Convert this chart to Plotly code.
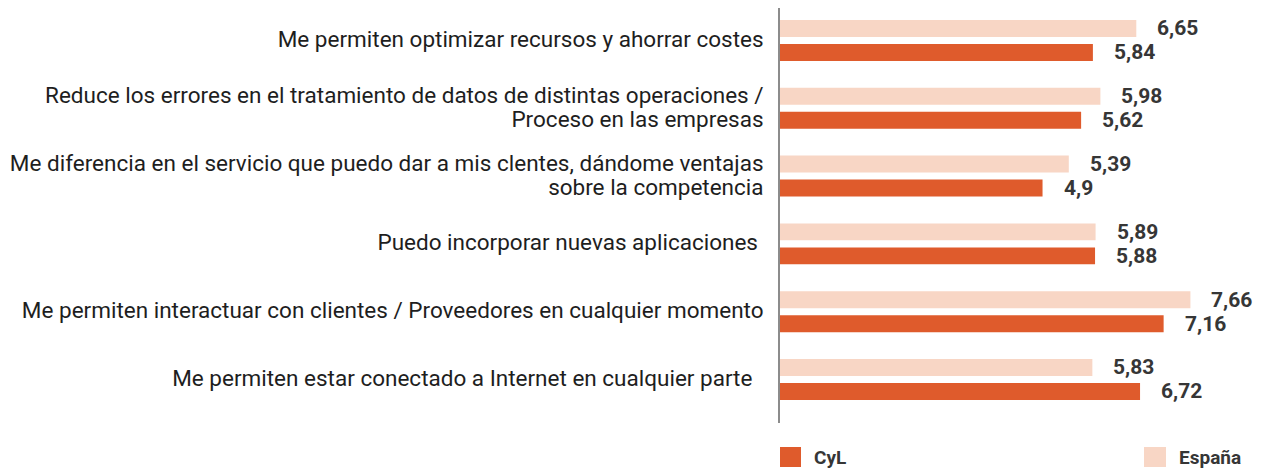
import plotly.graph_objects as go

categories = [
    "Me permiten optimizar recursos y ahorrar costes",
    "Reduce los errores en el tratamiento de datos de distintas operaciones /<br>Proceso en las empresas",
    "Me diferencia en el servicio que puedo dar a mis clentes, dándome ventajas<br>sobre la competencia",
    "Puedo incorporar nuevas aplicaciones\u00a0",
    "Me permiten interactuar con clientes / Proveedores en cualquier momento",
    "Me permiten estar conectado a Internet en cualquier parte\u00a0\u00a0",
]
espana = [6.65, 5.98, 5.39, 5.89, 7.66, 5.83]
cyl = [5.84, 5.62, 4.9, 5.88, 7.16, 6.72]
series_names = ["CyL", "España"]

C_CYL = "#DF5B2C"
C_ESP = "#F8D6C5"
FONT = "Roboto"
TXT = "#1E1E1E"
VAL = "#363636"

idx = list(range(len(categories)))

fig = go.Figure()
fig.add_trace(go.Bar(
    y=idx, x=espana, orientation="h", name=series_names[1],
    marker=dict(color=C_ESP, line=dict(width=0)),
    width=0.25, offset=-0.302, hoverinfo="x",
))
fig.add_trace(go.Bar(
    y=idx, x=cyl, orientation="h", name=series_names[0],
    marker=dict(color=C_CYL, line=dict(width=0)),
    width=0.25, offset=0.052, hoverinfo="x",
))

def fmt(v):
    return f"{v:g}".replace(".", ",")

annotations = []
for i in idx:
    for vals, dy in ((espana, -0.177), (cyl, 0.177)):
        annotations.append(dict(
            x=vals[i], y=i + dy, xref="x", yref="y",
            text=fmt(vals[i]), showarrow=False,
            xanchor="left", yanchor="middle", xshift=19,
            font=dict(family=FONT, size=21, color=VAL, weight=700),
        ))

# page body has an 8px margin: the figure is laid out 8px up/left
OFF = 8
FW, FH = 1264 - OFF, 470 - OFF
L, W, T, H = 780 - OFF, 479, 8 - OFF, 415
def px(xp):
    return (xp - OFF - L) / W
def py(yp):
    return (T + H - (yp - OFF)) / H

shapes = [
    dict(type="rect", xref="paper", yref="paper", x0=px(780), x1=px(801),
         y0=py(467), y1=py(447), fillcolor=C_CYL, line=dict(width=0)),
    dict(type="rect", xref="paper", yref="paper", x0=px(1144), x1=px(1166),
         y0=py(467), y1=py(447), fillcolor=C_ESP, line=dict(width=0)),
]
annotations += [
    dict(x=px(812), y=py(457), xref="paper", yref="paper", text=series_names[0],
         showarrow=False, xanchor="left", yanchor="middle",
         font=dict(family=FONT, size=19, color=VAL, weight=700)),
    dict(x=px(1177), y=py(457), xref="paper", yref="paper", text=series_names[1],
         showarrow=False, xanchor="left", yanchor="middle",
         font=dict(family=FONT, size=19, color=VAL, weight=700)),
]

ticktext = ['<span style="font-size:22.5px">' + "</span><br><span style=\"font-size:22.5px\">".join(c.split("<br>")) + "</span>" for c in categories]

fig.update_layout(
    width=FW, height=FH,
    margin=dict(l=L, r=FW - L - W, t=T, b=FH - T - H, autoexpand=False, pad=0),
    paper_bgcolor="white", plot_bgcolor="white",
    barmode="overlay", showlegend=False,
    separators=",.",
    xaxis=dict(range=[0, 8.94], visible=False, showgrid=False, zeroline=False, automargin=False),
    yaxis=dict(
        range=[5.642, -0.479], tickmode="array", tickvals=idx, ticktext=ticktext,
        showgrid=False, zeroline=False, showline=True, linecolor="#8C8C8C", linewidth=1.5,
        ticks="", ticklabelstandoff=11, automargin=False,
        tickfont=dict(family=FONT, size=18.5, color=TXT),
    ),
    shapes=shapes, annotations=annotations,
)

fig.write_html("out.html")
